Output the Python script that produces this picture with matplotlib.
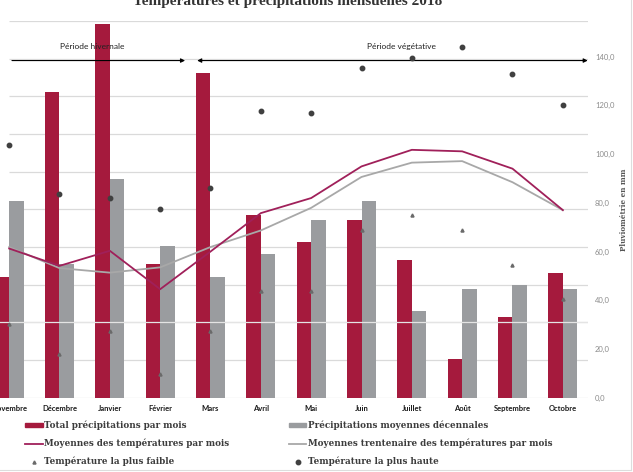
import matplotlib
matplotlib.use("Agg")
import matplotlib.pyplot as plt
import matplotlib.ticker as ticker
from matplotlib.lines import Line2D
from matplotlib.patches import Patch
import numpy as np

mois = ["Novembre", "Décembre", "Janvier", "Février", "Mars", "Avril",
        "Mai", "Juin", "Juillet", "Août", "Septembre", "Octobre"]
precip_total = [49.7, 125.6, 153.5, 54.9, 133.4, 74.8, 63.8, 73.1, 56.5, 15.7, 33.3, 51.0]
precip_decennale = [80.9, 55.0, 89.6, 62.3, 49.7, 58.8, 73.1, 80.9, 35.4, 44.6, 46.4, 44.6]
temp_moy = [9.8, 7.5, 9.5, 4.4, 9.4, 14.5, 16.5, 20.7, 22.9, 22.7, 20.4, 14.9]
temp_moy_30 = [10.0, 7.2, 6.6, 7.3, 10.0, 12.2, 15.2, 19.3, 21.2, 21.4, 18.6, 14.9]
temp_max = [23.5, 17.0, 16.5, 15.0, 17.8, 28.1, 27.8, 33.8, 35.1, 36.6, 33.0, 28.8]
temp_min = [-0.2, -4.2, -1.1, -6.8, -1.1, 4.2, 4.2, 12.2, 14.2, 12.2, 7.6, 3.1]

temp_grid = np.arange(-10, 45, 5)
precip_ticks = np.arange(0, 160, 20)

ROUGE = "#A51A3D"
ROUGE_LIGNE = "#A0205A"
GRIS_BARRE = "#9A9C9F"
GRIS_LIGNE = "#A8A8A8"
GRILLE = "#DADADA"

fig = plt.figure(figsize=(6.33, 4.72), dpi=100)
# the chart is cropped on the left, so the plot area starts outside the figure
ax = fig.add_axes([-16 / 633, 74.3 / 472, 604 / 633, 376.7 / 472])
ax2 = ax.twinx()
ax.set_zorder(ax2.get_zorder() + 1)
ax.patch.set_visible(False)

x = np.arange(len(mois))
w = 0.288

ax.set_xlim(-0.5, len(mois) - 0.5)
ax.set_ylim(-10, 40)
ax2.set_ylim(0, 154.6)

# gridlines of the temperature axis, behind the bars
ax2.hlines(temp_grid, 0, len(mois) - 0.5, colors=GRILLE, lw=0.9,
           transform=ax.transData, zorder=0)
ax2.bar(x - w / 2, precip_total, w, color=ROUGE, zorder=2)
ax2.bar(x + w / 2, precip_decennale, w, color=GRIS_BARRE, zorder=2)
ax2.hlines([0], -0.5, len(mois) - 0.5, colors="#E4E4E4", lw=0.9,
           transform=ax.transData, zorder=3)

ax.plot(x, temp_moy_30, color=GRIS_LIGNE, lw=1.3, zorder=4)
ax.plot(x, temp_moy, color=ROUGE_LIGNE, lw=1.3, zorder=5)
ax.plot(x, temp_min, ls="none", marker="^", ms=2.2, color="#6a6a6a", zorder=6)
ax.plot(x, temp_max, ls="none", marker="o", ms=3.2, color="#404040", zorder=6)

for a in (ax, ax2):
    for s in a.spines.values():
        s.set_visible(False)

ax.set_xticks(x)
ax.set_xticklabels(mois, fontfamily="Lato", fontweight="bold", fontsize=5.5, color="#1a1a1a")
ax.tick_params(axis="x", length=0, pad=5)
ax.set_yticks([])

ax2.set_yticks(precip_ticks)
ax2.yaxis.set_major_formatter(ticker.FuncFormatter(lambda v, p: f"{v:.1f}".replace(".", ",")))
ax2.tick_params(axis="y", length=0, pad=5, labelsize=5.5, labelcolor="#8c8c8c")
for lab in ax2.get_yticklabels():
    lab.set_fontfamily("Lato")
ax2.set_ylabel("Pluviométrie en mm", fontfamily="DejaVu Serif", fontweight="bold",
               fontsize=5.2, color="#555555", labelpad=4)

# périodes
arrow_y = 34.75
ax.annotate("", xy=(3.55, arrow_y), xytext=(0, arrow_y),
            arrowprops=dict(arrowstyle="-|>", color="black", lw=0.8, mutation_scale=6))
ax.annotate("", xy=(11.55, arrow_y), xytext=(3.68, arrow_y),
            arrowprops=dict(arrowstyle="<|-|>", color="black", lw=0.8, mutation_scale=6),
            annotation_clip=False)
ax.text(1.65, 36.6, "Période hivernale", ha="center", va="center",
        fontfamily="Lato", fontsize=6, color="#222222", zorder=7)
ax.text(7.8, 36.6, "Période végétative", ha="center", va="center",
        fontfamily="Lato", fontsize=6, color="#222222", zorder=7)

# title is cut by the top edge in the original
fig.text(288 / 633, 1 - 5.5 / 472, "Températures et précipitations mensuelles 2018",
         ha="center", va="baseline", fontfamily="Liberation Serif", fontweight="bold",
         fontsize=11, color="#333333")

handles = [
    Patch(color=ROUGE),
    Line2D([], [], color=ROUGE_LIGNE, lw=1.3),
    Line2D([], [], ls="none", marker="^", ms=2.2, color="#6a6a6a"),
    Patch(color=GRIS_BARRE),
    Line2D([], [], color=GRIS_LIGNE, lw=1.3),
    Line2D([], [], ls="none", marker="o", ms=3.2, color="#404040"),
]
labels = [
    "Total précipitations par mois",
    "Moyennes des températures par mois",
    "Température la plus faible",
    "Précipitations moyennes décennales",
    "Moyennes trentenaire des températures par mois",
    "Température la plus haute",
]
leg = fig.legend(handles, labels, ncol=2, loc="upper left",
                 bbox_to_anchor=(25 / 633, 1 - 420.5 / 472), frameon=False,
                 prop=dict(family="DejaVu Serif", weight="bold", size=6.3),
                 handlelength=2.0, handleheight=0.45, handletextpad=0.2,
                 columnspacing=6.8, labelspacing=1.0, borderpad=0, borderaxespad=0)
for t in leg.get_texts():
    t.set_color("#3c3c3c")

# chart frame remains
fig.add_artist(Line2D([0, 631 / 633], [2 / 472, 2 / 472], color="#dddddd", lw=0.8))
fig.add_artist(Line2D([631 / 633, 631 / 633], [2 / 472, 1], color="#dddddd", lw=0.8))

fig.savefig("out.png", dpi=100)
